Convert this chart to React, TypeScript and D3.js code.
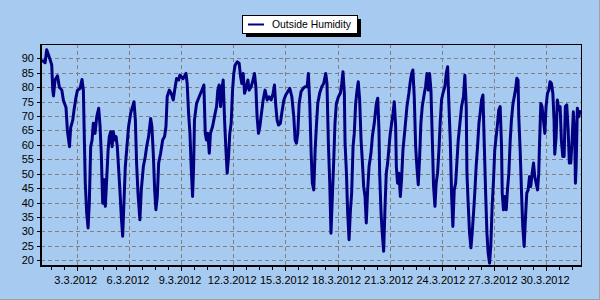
import React from "react";
import * as d3 from "d3";

// Day offsets since 1.3.2012 00:00 (fractional days) and humidity values (%)
const dayOffsets = [
  0.0, 0.18, 0.27, 0.47, 0.56, 0.62, 0.66, 0.75, 0.89, 1.0, 1.14, 1.23, 1.38, 1.46, 1.58, 1.65, 1.77, 1.84, 1.96,
  2.04, 2.19, 2.3, 2.38, 2.44, 2.49, 2.57, 2.65, 2.72, 2.8, 2.88, 2.95, 3.05, 3.15, 3.26, 3.34, 3.41, 3.49, 3.57,
  3.64, 3.72, 3.8, 3.87, 3.95, 4.03, 4.1, 4.18, 4.26, 4.33, 4.41, 4.49, 4.56, 4.64, 4.72, 4.79, 4.87, 4.98, 5.1,
  5.21, 5.29, 5.37, 5.44, 5.52, 5.63, 5.71, 5.83, 5.94, 6.02, 6.13, 6.25, 6.32, 6.4, 6.48, 6.55, 6.63, 6.71, 6.82,
  6.94, 7.05, 7.13, 7.2, 7.32, 7.43, 7.55, 7.66, 7.74, 7.86,
  7.93, 8.12, 8.28, 8.35, 8.43, 8.51, 8.58, 8.66, 8.72, 8.77, 8.89, 9.04, 9.2, 9.31, 9.39, 9.46, 9.54, 9.62, 9.69,
  9.81, 9.92, 10.04, 10.11, 10.19, 10.27, 10.34, 10.42, 10.5, 10.57, 10.65, 10.73, 10.8, 10.88, 10.96, 11.03,
  11.11, 11.23, 11.34, 11.42, 11.49, 11.57, 11.65, 11.76, 11.84, 11.91, 12.03, 12.14, 12.22, 12.3, 12.37, 12.45,
  12.53, 12.6, 12.72, 12.83, 12.95, 13.06, 13.18, 13.29, 13.37, 13.45, 13.52, 13.6, 13.71, 13.79, 13.91, 14.02,
  14.14, 14.25, 14.37, 14.48, 14.56, 14.63, 14.71, 14.79, 14.9, 15.02, 15.13, 15.25, 15.32, 15.4, 15.48, 15.55,
  15.63, 15.71, 15.78, 15.86, 15.97, 16.09, 16.2, 16.32, 16.39, 16.47,
  16.55, 16.62, 16.7, 16.78, 16.85, 16.93, 17.05, 17.16, 17.24, 17.31, 17.39, 17.43, 17.51, 17.58, 17.66, 17.74,
  17.81, 17.89, 17.96, 18.04, 18.12, 18.19, 18.27, 18.35, 18.42, 18.5, 18.58, 18.65, 18.73, 18.81, 18.92, 19.0,
  19.11, 19.23, 19.31, 19.38, 19.42, 19.5, 19.57, 19.65, 19.73, 19.8, 19.88, 19.96, 20.03, 20.11, 20.19, 20.26,
  20.34, 20.38, 20.45, 20.53, 20.61, 20.68, 20.76, 20.87, 20.99, 21.1, 21.18, 21.26, 21.33, 21.41, 21.49, 21.56,
  21.64, 21.72, 21.79, 21.87, 21.99, 22.06, 22.14, 22.22, 22.29, 22.37, 22.45, 22.52, 22.6, 22.67, 22.75, 22.83,
  22.9, 22.98, 23.06, 23.17, 23.25, 23.33, 23.4, 23.48, 23.56, 23.63, 23.71, 23.79, 23.86, 23.94,
  24.02, 24.13, 24.24, 24.32, 24.4, 24.44, 24.51, 24.59, 24.67, 24.74, 24.82, 24.9, 24.97, 25.05, 25.13, 25.2,
  25.28, 25.36, 25.43, 25.51, 25.59, 25.66, 25.74, 25.81, 25.89, 25.97, 26.04, 26.12, 26.2, 26.27, 26.35, 26.43,
  26.47, 26.54, 26.62, 26.7, 26.77, 26.85, 26.93, 27.0, 27.08, 27.16, 27.23, 27.31, 27.38, 27.42, 27.5, 27.58,
  27.65, 27.73, 27.81, 27.88, 27.96, 28.04, 28.11, 28.19, 28.27, 28.34, 28.42, 28.5, 28.57, 28.61, 28.69, 28.76,
  28.84, 28.92, 28.99, 29.07, 29.15, 29.22, 29.3, 29.38, 29.45, 29.49, 29.57, 29.64, 29.72, 29.8, 29.87, 29.95,
  30.03, 30.1, 30.18, 30.26, 30.33, 30.41, 30.49, 30.56, 30.64, 30.68, 30.72, 30.79, 30.87, 30.95,
];

const humidity = [
  89.4, 88.5, 93.0, 89.5, 87.7, 79.0, 77.0, 82.5, 84.0, 80.0, 79.0, 75.5, 73.0, 65.0, 59.4, 66.0, 68.6, 72.0, 76.7,
  79.0, 79.6, 82.7, 79.0, 60.6, 46.7, 36.4, 31.2, 39.8, 59.4, 61.7, 67.5, 64.0, 69.8, 72.7, 66.4, 57.0, 39.8, 48.0,
  38.7, 48.0, 58.0, 62.9, 64.6, 59.4, 64.6, 61.7, 62.9, 59.4, 51.4, 43.3, 35.2, 28.3, 41.0, 52.5, 58.3, 66.4, 71.0,
  73.3, 75.0, 68.7, 53.7, 43.3, 34.0, 44.4, 52.5, 56.0, 59.4, 62.9, 69.2, 66.4, 57.0, 44.4, 37.5, 42.0, 53.7, 57.0,
  61.7, 62.9, 66.4, 76.7, 79.0, 77.9, 75.6, 80.2, 83.0, 82.5,
  84.2, 83.0, 84.8, 81.3, 71.0, 64.0, 52.5, 42.1, 52.5, 68.7, 74.4, 76.7, 79.0, 80.8, 64.0, 61.7, 64.0, 57.1, 64.0,
  66.4, 69.8, 73.3, 79.0, 80.8, 73.3, 79.0, 82.5, 68.7, 59.4, 50.2, 56.0, 64.0, 67.5, 79.0, 84.8,
  87.7, 88.8, 88.3, 83.7, 81.3, 84.8, 77.9, 80.2, 82.5, 79.0, 80.2, 82.5, 84.8, 80.2, 69.8, 64.0,
  66.4, 69.8, 75.6, 79.0, 75.6, 76.7, 75.6, 77.9, 80.8, 73.3, 68.7, 66.9, 67.5, 71.0, 75.6, 77.3,
  78.5, 79.6, 76.7, 69.8, 61.7, 60.6, 64.0, 74.4, 78.5, 79.6, 80.2, 80.2, 84.8, 74.4, 57.1, 46.7,
  44.4, 58.3, 66.4, 74.4, 77.9, 80.2, 81.3, 84.8, 81.3, 60.6,
  46.7, 29.4, 42.1, 54.8, 67.5, 74.4, 76.7, 77.9, 81.3, 85.4, 77.9, 60.6, 50.2, 36.4, 27.1, 37.5,
  43.3, 59.4, 64.0, 74.4, 79.0, 81.9, 75.6, 61.7, 54.8, 45.6, 42.1, 32.9, 44.4, 52.5, 57.1, 62.9,
  67.5, 74.4, 76.2, 65.2, 50.2, 36.4, 29.4, 23.1, 38.7, 50.2, 53.7, 59.4, 64.0, 67.5, 71.0, 75.0,
  66.4, 52.5, 46.7, 50.2, 42.1, 48.0, 58.3, 65.2, 73.3, 77.9, 81.9, 84.8, 86.0, 76.7, 59.4, 52.5,
  46.2, 56.0, 67.5, 73.3, 77.9, 80.2, 84.8, 79.0, 84.8, 79.0, 61.7, 45.6, 38.7, 46.7, 50.2, 58.3,
  67.5, 75.6, 77.9, 80.2, 84.8, 87.1, 74.4, 61.7, 42.1, 31.7, 44.4, 46.7, 53.7, 61.7,
  66.4, 73.3, 76.7, 84.2, 73.3, 50.2, 39.8, 29.4, 24.3, 29.4, 36.4, 44.4, 52.5, 59.4, 67.5, 71.0,
  75.6, 77.3, 61.7, 44.4, 29.4, 22.5, 19.0, 24.8, 38.7, 48.0, 58.3, 62.9, 67.5, 72.1, 73.3, 59.4,
  43.3, 37.5, 42.1, 37.5, 44.4, 50.2, 61.7, 68.7, 73.9, 76.7, 79.0, 83.1, 82.5, 69.8, 58.3, 43.3,
  31.7, 24.8, 35.2, 43.3, 44.4, 49.0, 45.6, 50.2, 53.7, 49.0, 46.7, 44.4, 50.2, 59.4, 74.4, 73.3,
  68.7, 64.0, 73.3, 77.9, 79.0, 81.9, 81.3, 77.9, 68.7, 56.8, 62.9, 75.6, 72.1, 73.3, 61.7, 56.0,
  56.0, 73.3, 73.9, 65.2, 53.7, 53.7, 61.7, 71.5, 62.9, 46.7, 52.5, 72.7, 69.8, 72.1,
];

const seriesName = "Outside Humidity";
const yTicks = [20, 25, 30, 35, 40, 45, 50, 55, 60, 65, 70, 75, 80, 85, 90];
const xTickLabels = ["3.3.2012", "6.3.2012", "9.3.2012", "12.3.2012", "15.3.2012", "18.3.2012", "21.3.2012", "24.3.2012", "27.3.2012", "30.3.2012"];
const startDate = Date.UTC(2012, 2, 1);
const endDate = Date.UTC(2012, 3, 1);
const yDomain = [18, 95];

const W = 600;
const H = 300;
const left = 41;
const right = 581;
const top = 44;
const bottom = 266;
const DAY = 86400000;

export default function App() {
  const x = d3.scaleUtc().domain([new Date(startDate), new Date(endDate)]).range([42, 581]);
  const y = d3.scaleLinear().domain(yDomain).range([bottom, top]);
  const parse = d3.utcParse("%d.%m.%Y");
  const majorDates = xTickLabels.map((l) => parse(l) as Date);
  const minorDates: Date[] = [];
  const step = 0.75 * DAY;
  for (let t = majorDates[0].getTime() - 2 * step; t < endDate; t += step) {
    if (t > startDate) minorDates.push(new Date(t));
  }
  const data = dayOffsets.map((d, i) => ({ t: new Date(startDate + d * DAY), v: humidity[i] }));
  const line = d3
    .line<{ t: Date; v: number }>()
    .x((d) => x(d.t))
    .y((d) => y(d.v));

  const font = "'Liberation Sans', Arial, sans-serif";
  const grid = "#808080";

  return (
    <svg width={W} height={H} style={{ position: "absolute", left: 0, top: 0 }} fontFamily={font}>
      <rect x={0} y={0} width={W} height={H} fill="#A6CAF0" />
      <line x1={W - 0.5} y1={0} x2={W - 0.5} y2={H} stroke="#a0a0a0" />
      <line x1={0} y1={H - 0.5} x2={W} y2={H - 0.5} stroke="#a0a0a0" />

      {/* horizontal grid */}
      {yTicks.map((v) => (
        <line key={"hg" + v} x1={left} x2={right} y1={Math.round(y(v)) + 0.5} y2={Math.round(y(v)) + 0.5} stroke={grid} strokeDasharray="4,3" />
      ))}
      {/* vertical grid */}
      {majorDates.map((d, i) => (
        <line key={"vg" + i} x1={Math.round(x(d)) + 0.5} x2={Math.round(x(d)) + 0.5} y1={top} y2={bottom} stroke={grid} strokeDasharray="4,3" />
      ))}

      {/* data line */}
      <clipPath id="plotclip">
        <rect x={left} y={top} width={right - left} height={bottom - top + 2} />
      </clipPath>
      <path d={line(data) || ""} fill="none" stroke="#000080" strokeWidth={3} strokeLinejoin="round" clipPath="url(#plotclip)" />

      {/* frame */}
      <line x1={40} x2={right + 0.5} y1={top + 0.5} y2={top + 0.5} stroke="#000" />
      <line x1={right + 0.5} x2={right + 0.5} y1={top} y2={bottom} stroke="#000" />
      <line x1={41} x2={41} y1={top} y2={bottom + 1} stroke="#000" strokeWidth={2} />
      <line x1={40} x2={right + 1} y1={266} y2={266} stroke="#000" strokeWidth={2} />

      {/* y ticks + labels */}
      {yTicks.map((v) => (
        <g key={"yt" + v}>
          <line x1={37} x2={40} y1={Math.round(y(v)) + 0.5} y2={Math.round(y(v)) + 0.5} stroke="#000" />
          <text x={34} y={y(v) + 4} fontSize={11} textAnchor="end" fill="#000">
            {v}
          </text>
        </g>
      ))}

      {/* x ticks */}
      {minorDates.map((d, i) => (
        <line key={"mt" + i} x1={Math.round(x(d)) + 0.5} x2={Math.round(x(d)) + 0.5} y1={267} y2={270} stroke="#000" />
      ))}
      {majorDates.map((d, i) => (
        <line key={"Mt" + i} x1={Math.round(x(d)) + 0.5} x2={Math.round(x(d)) + 0.5} y1={267} y2={271} stroke="#000" />
      ))}
      {majorDates.map((d, i) => (
        <text key={"xl" + i} x={x(d) - 1} y={284} fontSize={11} textAnchor="middle" fill="#000">
          {xTickLabels[i]}
        </text>
      ))}

      {/* legend */}
      <rect x={246} y={19} width={115} height={18} fill="#000" />
      <rect x={242.5} y={15.5} width={115} height={18} fill="#fff" stroke="#000" />
      <line x1={248} x2={264} y1={24.5} y2={24.5} stroke="#000080" strokeWidth={2} />
      <text x={272} y={28} fontSize={11} fill="#000" textLength={79} lengthAdjust="spacingAndGlyphs">
        {seriesName}
      </text>
    </svg>
  );
}
